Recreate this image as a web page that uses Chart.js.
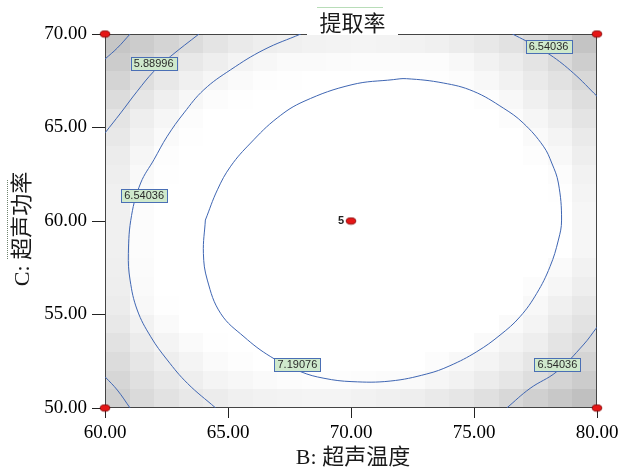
<!DOCTYPE html>
<html><head><meta charset="utf-8">
<script src="https://cdn.jsdelivr.net/npm/chart.js@4.4.1/dist/chart.umd.min.js"></script>
<style>html,body{margin:0;padding:0;background:#fff;overflow:hidden}#wrap{width:619px;height:471px}</style>
</head><body><div id="wrap"><canvas id="c" width="619" height="471"></canvas></div>
<script>
// ---- data ----
const chartTitle = '提取率';
const xTitle = 'B: 超声温度';
const yTitle = 'C: 超声功率';
const xTicks = [60, 65, 70, 75, 80];
const yTicks = [50, 55, 60, 65, 70];
const contourLevels = [5.23956, 5.88996, 6.54036, 7.19076];

// contour polylines as [B, C] pairs
const contour524TopLeft = [[61.02,70],[60.5,69.25],[60,68.66]];
const contour589TopLeft = [[63.82,70],[62.67,68.81],[61.99,68.01],[61.31,66.94],[60.64,65.78],[60,64.71]];
const contour589BottomLeft = [[60,51.67],[60.5,50.96],[61.02,50]];
const contour654Main = [[67.96,70],[66.46,69.16],[65.11,68.09],[64.02,67.02],[63.21,65.78],[62.53,64.53],[61.99,63.28],[61.45,62.03],[61.08,60.3],[60.95,58.27],[61.02,56.84],[61.31,55.24],[61.86,53.81],[62.53,52.57],[63.35,51.32],[64.50,50]];
const contour654TopRight = [[76.56,70],[77.14,69.61],[78.09,68.89],[79.04,67.91],[80,66.67]];
const contour654BottomRight = [[76.33,50],[77.28,51.05],[78.36,51.94],[79.44,53.37],[80,54.32]];
const contour719 = [[64.08,60.05],[64.0,58.27],[64.16,56.84],[64.70,55.06],[65.65,53.81],[66.74,52.74],[67.96,51.94],[68.90,51.59],[70.04,51.41],[71.59,51.44],[73.08,51.82],[74.02,52.26],[75.11,53.01],[76.06,53.90],[76.87,54.88],[77.55,56.13],[78.09,57.56],[78.43,58.98],[78.56,60.05],[78.43,62.03],[78.16,63.10],[77.82,64.0],[77.00,65.24],[76.19,66.04],[74.97,66.94],[73.75,67.38],[72.26,67.61],[71.72,67.56],[70.04,67.29],[68.09,66.40],[67.0,65.51],[65.92,64.17],[65.11,62.93],[64.57,61.67],[64.08,60.05]];

// contour label anchors: [level index, B, C]
const contourLabels = [[1,61.98,68.40],[2,78.03,69.32],[2,61.59,61.36],[3,67.82,52.35],[2,78.39,52.34]];

// design points [B, C]
const designPoints = [[60,50],[60,70],[80,50],[80,70],[70,60]];
const centerReplicates = 5;

// background shading (darkness per cell, 20x20, row 0 = C 69..70, col 0 = B 60..61)
const shadeGrid = [
[57,51,43,35,27,21,17,15,13,12,11,12,13,15,19,23,29,37,47,59],
[51,43,33,23,17,11,8,5,5,4,3,3,3,3,7,13,19,27,37,49],
[43,33,23,15,9,5,2,1,0,0,0,0,0,1,3,7,13,21,29,39],
[35,25,16,8,3,1,0,0,0,0,0,0,0,0,0,2,7,15,23,33],
[27,17,9,3,0,0,0,0,0,0,0,0,0,0,0,0,3,9,17,27],
[23,13,5,1,0,0,0,0,0,0,0,0,0,0,0,0,0,5,11,21],
[19,9,2,0,0,0,0,0,0,0,0,0,0,0,0,0,0,2,7,17],
[17,6,1,0,0,0,0,0,0,0,0,0,0,0,0,0,0,0,3,13],
[15,4,0,0,0,0,0,0,0,0,0,0,0,0,0,0,0,0,1,11],
[15,3,0,0,0,0,0,0,0,0,0,0,0,0,0,0,0,0,0,9],
[15,3,0,0,0,0,0,0,0,0,0,0,0,0,0,0,0,0,0,9],
[15,3,0,0,0,0,0,0,0,0,0,0,0,0,0,0,0,0,0,9],
[16,4,0,0,0,0,0,0,0,0,0,0,0,0,0,0,0,0,5,13],
[17,5,0,0,0,0,0,0,0,0,0,0,0,0,0,0,0,3,9,17],
[19,7,1,0,0,0,0,0,0,0,0,0,0,0,0,0,0,7,15,23],
[23,13,5,0,0,0,0,0,0,0,0,0,0,0,0,0,5,11,21,29],
[29,19,11,5,1,0,0,0,0,0,0,0,0,0,0,5,11,17,27,35],
[35,25,17,11,5,2,0,0,0,0,0,0,0,3,7,11,17,25,33,43],
[41,31,23,17,11,8,5,3,2,2,3,4,5,9,13,19,25,33,43,51],
[47,37,29,23,19,15,13,12,11,11,13,15,17,21,25,31,39,47,55,63]
];

// ---- styles ----
const lineColor = '#3f66b3';
const serif = '"Liberation Serif", "Times New Roman", serif';
const cjk = '"Liberation Serif", "Noto Sans CJK SC", serif';

function makeDot(){
  const c = document.createElement('canvas'); c.width = 12; c.height = 9;
  const g = c.getContext('2d');
  g.beginPath(); g.ellipse(6, 4.5, 4.8, 3.2, 0, 0, Math.PI*2);
  g.fillStyle = '#e51616'; g.fill();
  g.lineWidth = 0.8; g.strokeStyle = '#7a0000'; g.stroke();
  return c;
}
const dotImg = makeDot();

const toXY = arr => arr.map(([b, c]) => ({x: b, y: c}));
function contourSet(arr){
  return {data: toXY(arr), showLine: true, pointRadius: 0, borderColor: lineColor, borderWidth: 1, tension: 0.4, fill: false};
}

const decorPlugin = {
  id: 'decor',
  beforeDatasetsDraw(chart){
    const {ctx, chartArea: a, scales: {x, y}} = chart;
    ctx.save();
    for (let r = 0; r < shadeGrid.length; r++){
      for (let k = 0; k < shadeGrid[r].length; k++){
        const x0 = Math.round(x.getPixelForValue(60 + k));
        const x1 = Math.round(x.getPixelForValue(61 + k));
        const y0 = Math.round(y.getPixelForValue(70 - r));
        const y1 = Math.round(y.getPixelForValue(69 - r));
        const g = 255 - shadeGrid[r][k];
        ctx.fillStyle = `rgb(${g},${g},${g})`;
        ctx.fillRect(x0, y0, x1 - x0, y1 - y0);
      }
    }
    ctx.strokeStyle = '#444'; ctx.lineWidth = 1;
    ctx.strokeRect(a.left + 0.5, a.top + 0.5, a.right - a.left - 1, a.bottom - a.top - 1);
    ctx.restore();
  },
  afterDatasetsDraw(chart){
    const {ctx, scales: {x, y}} = chart;
    ctx.save();
    ctx.font = '11px "Liberation Sans", Arial, sans-serif';
    ctx.textAlign = 'center'; ctx.textBaseline = 'middle';
    contourLabels.forEach(([li, b, c]) => {
      const t = contourLevels[li].toFixed(5);
      const px = x.getPixelForValue(b), py = y.getPixelForValue(c);
      const w = Math.round(ctx.measureText(t).width + 6), h = 13;
      const bx = Math.round(px - w/2) + 0.5, by = Math.round(py - h/2) + 0.5;
      ctx.fillStyle = '#cfe9cc'; ctx.fillRect(bx, by, w, h);
      ctx.strokeStyle = '#4a6fb5'; ctx.lineWidth = 1; ctx.strokeRect(bx, by, w, h);
      ctx.fillStyle = '#2a2a2a'; ctx.fillText(t, px, py + 0.5);
    });
    // replicate count at center point
    const cp = designPoints[4];
    ctx.font = 'bold 11px "Liberation Sans", Arial, sans-serif';
    ctx.textAlign = 'right'; ctx.fillStyle = '#222';
    ctx.fillText(String(centerReplicates), x.getPixelForValue(cp[0]) - 7, y.getPixelForValue(cp[1]));
    ctx.restore();
  },
  afterDraw(chart){
    const {ctx, chartArea: a} = chart;
    const cx = (a.left + a.right) / 2;
    ctx.save();
    // title gap in the frame
    ctx.fillStyle = '#fff';
    ctx.fillRect(Math.round(cx - 44), a.top, 91, 1);
    ctx.strokeStyle = '#b8ddb8'; ctx.lineWidth = 1;
    ctx.beginPath(); ctx.moveTo(cx - 34, 7.5); ctx.lineTo(cx + 32, 7.5); ctx.stroke();
    ctx.fillStyle = '#1a1a1a';
    ctx.textAlign = 'center'; ctx.textBaseline = 'middle';
    ctx.font = '22px "Noto Sans CJK SC", sans-serif';
    ctx.fillText(chartTitle, cx + 1.5, a.top - 11.5);
    ctx.font = '22px ' + cjk;
    ctx.fillText(xTitle, cx + 2, a.bottom + 50);
    ctx.translate(23, (a.top + a.bottom) / 2 + 8);
    ctx.rotate(-Math.PI / 2);
    ctx.fillText(yTitle, 0, 0);
    ctx.restore();
    ctx.save();
    ctx.strokeStyle = 'rgba(50,80,50,0.7)'; ctx.setLineDash([1, 1]);
    ctx.beginPath(); ctx.moveTo(7.5, 180); ctx.lineTo(7.5, 260); ctx.stroke();
    ctx.restore();
  }
};

new Chart(document.getElementById('c'), {
  type: 'scatter',
  data: {
    datasets: [
      {data: toXY(designPoints), pointStyle: dotImg, pointRadius: 5, showLine: false, clip: false},
      contourSet(contour719),
      contourSet(contour654Main),
      contourSet(contour654TopRight),
      contourSet(contour654BottomRight),
      contourSet(contour589TopLeft),
      contourSet(contour589BottomLeft),
      contourSet(contour524TopLeft)
    ]
  },
  options: {
    responsive: false, animation: false, devicePixelRatio: 1,
    layout: {padding: {left: 0, top: 34, right: 22, bottom: 0}},
    plugins: {legend: {display: false}, tooltip: {enabled: false}, title: {display: false}},
    scales: {
      x: {
        type: 'linear', min: 60, max: 80,
        afterBuildTicks: s => { s.ticks = xTicks.map(v => ({value: v})); },
        afterFit: s => { s.height = 63; s.paddingLeft = 0; s.paddingRight = 0; },
        ticks: {callback: v => Number(v).toFixed(2), font: {family: serif, size: 19}, color: '#000', padding: 4, maxRotation: 0, autoSkip: false},
        grid: {display: true, drawOnChartArea: false, drawTicks: true, tickLength: 10, tickColor: '#222'},
        border: {display: false}
      },
      y: {
        type: 'linear', min: 50, max: 70,
        afterBuildTicks: s => { s.ticks = yTicks.map(v => ({value: v})); },
        afterFit: s => { s.width = 105; s.paddingTop = 0; s.paddingBottom = 0; },
        ticks: {callback: v => Number(v).toFixed(2), font: {family: serif, size: 19}, color: '#000', padding: 5, autoSkip: false},
        grid: {display: true, drawOnChartArea: false, drawTicks: true, tickLength: 13, tickColor: '#222'},
        border: {display: false}
      }
    }
  },
  plugins: [decorPlugin]
});
</script>
</body></html>
